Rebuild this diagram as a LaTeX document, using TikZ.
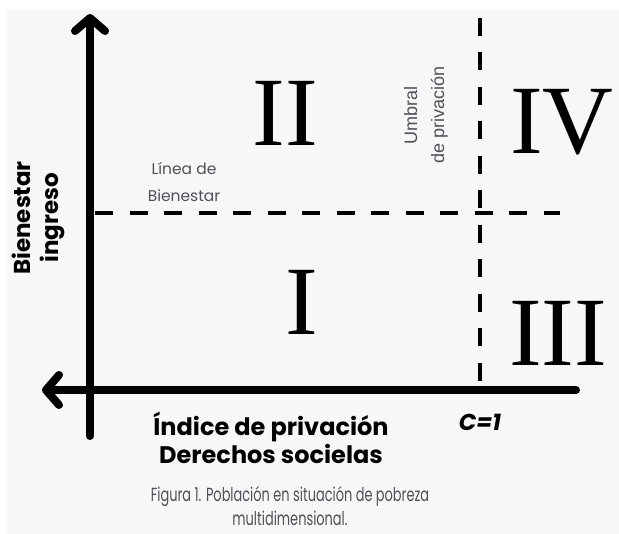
\documentclass[tikz,border=0pt]{standalone}
\usepackage{fontspec}
\newfontfamily\gothic{Poppins}
\newfontfamily\arialfont{Liberation Sans}
\newfontfamily\timesfont{Liberation Serif}
\usetikzlibrary{arrows.meta}
\definecolor{paper}{HTML}{F7F7F7}
\definecolor{notegray}{HTML}{50505A}
\tikzset{
  axis/.style={line width=8pt, line cap=round,
    -{Straight Barb[length=13pt,width=30pt,round]}},
  threshold/.style={line width=4pt, dash pattern=on 18pt off 16.5pt},
  quadrant/.style={inner sep=0pt, font=\timesfont\fontsize{98}{98}\selectfont},
  axislabel/.style={inner sep=0pt, align=center,
    font=\gothic\bfseries\fontsize{24}{28}\selectfont},
  note/.style={inner sep=0pt, align=center, text=notegray}
}
\begin{document}
\begin{tikzpicture}[x=1pt,y=-1pt]
  \useasboundingbox (0,0) rectangle (619,534);
  \fill[white] (0,0) rectangle (619,534);
  \fill[paper] (7,10) rectangle (619,534);
  % axes
  \coordinate (ytop) at (90,14);
  \coordinate (ybot) at (90,436);
  \coordinate (xleft) at (42,390);
  \coordinate (xright) at (576,390);
  \draw[axis] (ybot) -- (ytop);
  \draw[axis] (xright) -- (xleft);
  % thresholds
  \coordinate (hleft) at (95,213);
  \coordinate (hright) at (560,213);
  \coordinate (vtop) at (480,18);
  \coordinate (vbot) at (480,390);
  \draw[threshold] (hleft) -- (hright);
  \draw[threshold] (vtop) -- (vbot);
  % quadrants
  \draw
    (302,302) node[quadrant] (q1){I}
    (285,113) node[quadrant] (q2){II}
    (558,333) node[quadrant] (q3){III}
    (562,122) node[quadrant] (q4){IV};
  % labels
  \draw
    (38,218) node[axislabel, rotate=90, font=\gothic\bfseries\fontsize{23}{28}\selectfont] (ylab){Bienestar\\ingreso}
    (271,438) node[axislabel] (xlab){Índice de privación\\Derechos socielas}
    (480,422) node[axislabel, font=\gothic\bfseries\itshape\fontsize{23}{24}\selectfont] (cval){C=1}
    (184,182) node[note, font=\gothic\fontsize{15.5}{27}\selectfont] (hlab){Línea de\\Bienestar}
    (426,115) node[note, rotate=90, font=\arialfont\fontsize{18}{27}\selectfont] (vlab){Umbral\\de privación}
    (290,506) node[note, xscale=0.68, transform shape,
      font=\gothic\fontsize{19}{24}\selectfont] (caption){Figura 1. Población en situación de pobreza\\multidimensional.};
\end{tikzpicture}
\end{document}
